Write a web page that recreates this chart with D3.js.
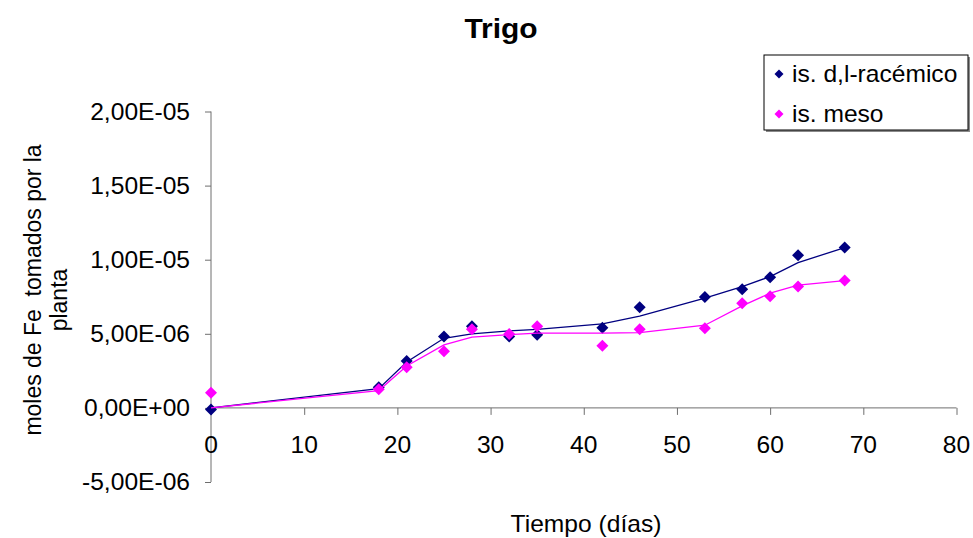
<!DOCTYPE html>
<html>
<head>
<meta charset="utf-8">
<script src="https://cdn.jsdelivr.net/npm/d3@7"></script>
<style>
  html, body { margin: 0; padding: 0; background: #fff; }
  svg { display: block; font-family: "Liberation Sans", Arial, sans-serif; }
  svg text { white-space: pre; }
</style>
</head>
<body>
<svg id="chart" width="973" height="538"></svg>
<script>
// Days of sampling
const days = [0, 18, 21, 25, 28, 32, 35, 42, 46, 53, 57, 60, 63, 68];
// Measured Fe uptake (mol)
const racemico = [-0.1e-6, 1.40e-6, 3.17e-6, 4.81e-6, 5.51e-6, 4.81e-6, 4.93e-6, 5.40e-6, 6.79e-6, 7.49e-6, 8.01e-6, 8.82e-6, 10.30e-6, 10.82e-6];
const meso = [1.03e-6, 1.26e-6, 2.74e-6, 3.82e-6, 5.31e-6, 4.99e-6, 5.51e-6, 4.20e-6, 5.31e-6, 5.37e-6, 7.06e-6, 7.53e-6, 8.19e-6, 8.59e-6];
// Smoothed trend for each isomer
const racemicoFit = [0, 1.30e-6, 3.10e-6, 4.70e-6, 5.00e-6, 5.20e-6, 5.30e-6, 5.67e-6, 6.20e-6, 7.40e-6, 8.19e-6, 8.86e-6, 9.80e-6, 10.82e-6];
const mesoFit = [0, 1.17e-6, 2.83e-6, 4.25e-6, 4.77e-6, 4.95e-6, 5.04e-6, 5.04e-6, 5.08e-6, 5.58e-6, 6.88e-6, 7.74e-6, 8.28e-6, 8.59e-6];
// Axis ticks
const xTicks = [0, 10, 20, 30, 40, 50, 60, 70, 80];
const yTicks = [-5e-6, 0, 5e-6, 1e-5, 1.5e-5, 2e-5];
const seriesNames = ["is. d,l-racémico", "is. meso"];
const seriesColors = ["#000080", "#FF00FF"];

const SX = 1.07; // horizontal text stretch
const svg = d3.select("#chart");

const x = d3.scaleLinear().domain([0, 80]).range([211, 956.5]);
const y = d3.scaleLinear().domain([-5e-6, 2e-5]).range([482, 111.5]);

function fmtSci(v) {
  if (Math.abs(v) < 1e-20) return "0,00E+00";
  const s = v.toExponential(2); // e.g. "2.00e-5"
  const [m, e] = s.split("e");
  const sign = e[0] === "-" ? "-" : "+";
  const ex = Math.abs(parseInt(e, 10)).toString().padStart(2, "0");
  return m.replace(".", ",") + "E" + sign + ex;
}

function stretchedText(g, tx, ty, str, opts) {
  const t = g.append("text")
    .attr("transform", `translate(${tx},${ty}) scale(${SX},1)` + (opts.rotate ? ` rotate(${opts.rotate})` : ""))
    .attr("text-anchor", opts.anchor || "start")
    .attr("font-size", opts.size || 23)
    .attr("fill", "#000")
    .text(str);
  if (opts.weight) t.attr("font-weight", opts.weight);
  return t;
}

const axisColor = "#6e6e6e";

// Y axis
const yAxis = svg.append("g").attr("transform", `translate(${x(0)},0)`)
  .call(d3.axisLeft(y).tickValues(yTicks).tickSize(6).tickFormat(""));
yAxis.select(".domain").attr("stroke", axisColor).attr("d", `M0,${y(-5e-6)}V${y(2e-5)}`);
yAxis.selectAll(".tick line").attr("stroke", axisColor);
yTicks.forEach(v => {
  stretchedText(svg, 190, y(v) + 8.3, fmtSci(v), { anchor: "end" });
});

// X axis at y = 0
const xAxis = svg.append("g").attr("transform", `translate(0,${y(0)})`)
  .call(d3.axisBottom(x).tickValues(xTicks).tickSize(7).tickFormat(""));
xAxis.select(".domain").attr("stroke", axisColor).attr("d", `M${x(0)},0H${x(80)}`);
xAxis.selectAll(".tick line").attr("stroke", axisColor);
xTicks.forEach(v => {
  stretchedText(svg, x(v), 452.5, String(v), { anchor: "middle" });
});

// Trend lines and markers
const line = d3.line().x((d, i) => x(days[i])).y(d => y(d));
function diamond(cx, cy, r) {
  return `M${cx},${cy - r}L${cx + r},${cy}L${cx},${cy + r}L${cx - r},${cy}Z`;
}
[[racemicoFit, racemico, 0], [mesoFit, meso, 1]].forEach(([fit, vals, k]) => {
  svg.append("path").attr("d", line(fit))
    .attr("fill", "none").attr("stroke", seriesColors[k]).attr("stroke-width", 1.3);
  svg.append("g").selectAll("path").data(vals).join("path")
    .attr("d", (d, i) => diamond(x(days[i]), y(d), 6))
    .attr("fill", seriesColors[k]);
});

// Title
stretchedText(svg, 501, 38, "Trigo", { anchor: "middle", size: 28, weight: "bold" });

// Axis titles
stretchedText(svg, 586, 532, "Tiempo (días)", { anchor: "middle" });
stretchedText(svg, 41, 290, "moles de Fe  tomados por la", { anchor: "middle", rotate: -90 });
stretchedText(svg, 67, 300, "planta", { anchor: "middle", rotate: -90 });

// Legend
const lg = svg.append("g");
lg.append("rect").attr("x", 766).attr("y", 57).attr("width", 204).attr("height", 75).attr("fill", "#8a8a8a");
lg.append("rect").attr("x", 764).attr("y", 55).attr("width", 204).attr("height", 75)
  .attr("fill", "#fff").attr("stroke", "#000").attr("stroke-width", 1);
seriesNames.forEach((name, k) => {
  const cy = 74 + k * 40;
  lg.append("path").attr("d", diamond(779, cy, 4.5)).attr("fill", seriesColors[k]);
  stretchedText(lg, 792, cy + 8.3, name, {});
});
</script>
</body>
</html>
